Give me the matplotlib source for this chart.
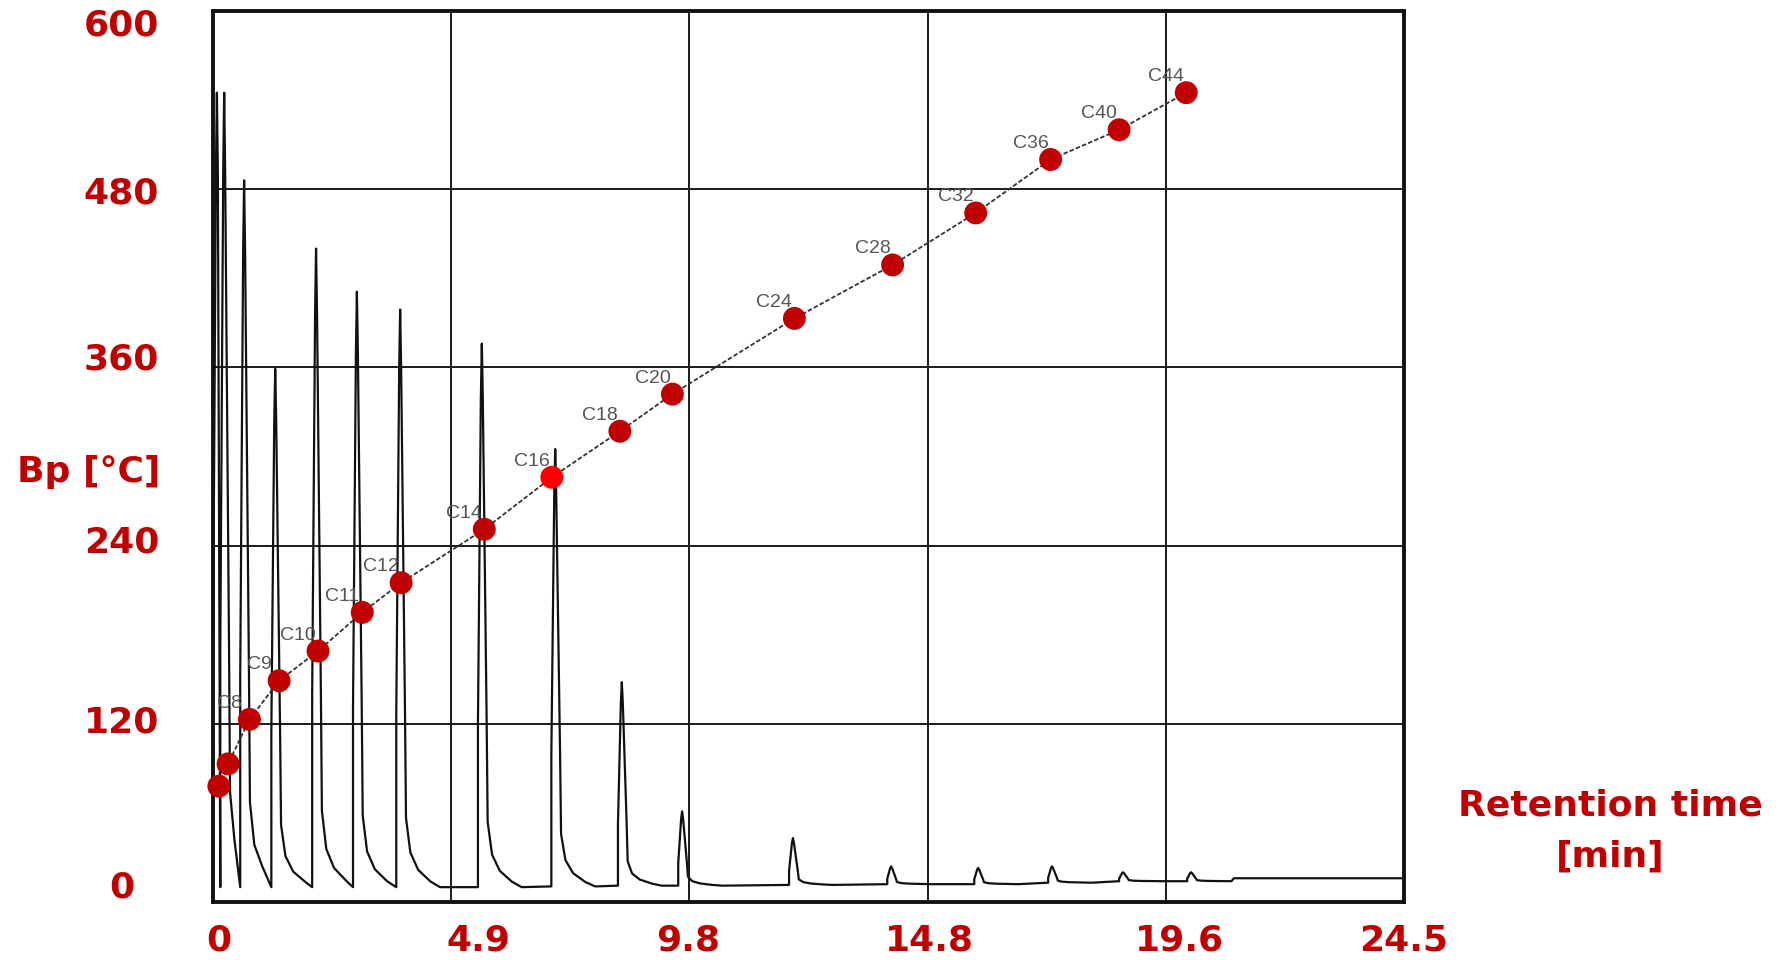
import numpy as np
import matplotlib.pyplot as plt

# boiling point of the n-alkanes vs retention time (red points)
rt = [0.12, 0.31, 0.75, 1.36, 2.16, 3.07, 3.87, 5.58, 6.97, 8.37, 9.45,
      11.96, 13.98, 15.69, 17.23, 18.64, 20.02]
bp = [78, 93, 123, 149, 169, 195, 215, 251, 286, 317, 342,
      393, 429, 464, 500, 520, 545]
names = ["", "", "C8", "C9", "C10", "C11", "C12", "C14", "C16", "C18", "C20",
         "C24", "C28", "C32", "C36", "C40", "C44"]

# chromatogram peaks (apex time, apex height, baseline) on the same vertical scale
peak_t = [0.08, 0.23, 0.64, 1.28, 2.12, 2.96, 3.85, 5.53, 7.04, 8.41, 9.65,
          11.93, 13.95, 15.74, 17.26, 18.72, 20.12]
peak_h = [545, 545, 486, 359, 440, 411, 399, 376, 305, 148, 61,
          43, 24, 23, 24, 20, 20]
peak_base = [10, 10, 10, 10, 10, 10, 10, 10, 10.5, 11, 11,
             11.5, 12, 12, 13, 14, 14]
end_t = [20.95, 21.0, 24.5]
end_y = [14, 16, 16]

# tick labels as printed on the picture
xlabels = ["0", "4.9", "9.8", "14.8", "19.6", "24.5"]
ylabels = ["0", "120", "240", "360", "480", "600"]

# layout
xlab_pos = [0.12, 5.47, 9.77, 14.73, 19.89, 24.5]
ylab_pos = [10, 121, 242, 365, 477, 590]
grid_x = [4.9, 9.8, 14.7, 19.6]
grid_y = [120, 240, 360, 480]
RED = "#C00000"
W, H = 1787, 960

fig = plt.figure(figsize=(W / 100, H / 100), dpi=100)
ax = fig.add_axes([213 / W, 1 - 902 / H, (1404 - 213) / W, (902 - 11) / H])
ax.set_xlim(0, 24.5)
ax.set_ylim(0, 600)

# grid of the recorder paper
for g in grid_x:
    ax.axvline(g, color="#1a1a1a", lw=1.4, zorder=1)
for g in grid_y:
    ax.axhline(g, color="#1a1a1a", lw=1.4, zorder=1)

# chromatogram trace: vertical rise, narrow apex, stepped tail on the right
dx = np.array([-0.08, -0.08, -0.02, 0.0, 0.02, 0.10, 0.12, 0.21, 0.37, 0.62, 0.82])
fy = np.array([0, 0.30, 0.90, 1.0, 0.90, 0.30, 0.12, 0.06, 0.03, 0.01, 0])
xs, ys = [0.0], [peak_base[0]]
for i, (t, h, b) in enumerate(zip(peak_t, peak_h, peak_base)):
    nxt = peak_t[i + 1] - 0.09 if i + 1 < len(peak_t) else end_t[0]
    px = t + dx
    py = b + (h - b) * fy
    m = px < nxt
    xs += list(px[m])
    ys += list(py[m])
xs += end_t
ys += end_y
ax.plot(xs, ys, color="#111111", lw=1.6, zorder=2)

# boiling point curve
ax.plot(rt, bp, color="#333333", lw=1.3, ls=(0, (2.5, 1.2)), zorder=3)
cols = [RED] * len(rt)
cols[8] = "#FF0000"
ax.scatter(rt, bp, s=272, c=cols, zorder=5, clip_on=False, linewidths=0)
for x, y, n in zip(rt, bp, names):
    if n:
        ax.annotate(n, (x, y), xytext=(-14.4, 11.5), textcoords="offset points",
                    ha="center", va="center", fontsize=14, color="#555555",
                    family="Liberation Sans", zorder=4)

for s in ax.spines.values():
    s.set_linewidth(2.8)
    s.set_color("#111111")

ax.set_xticks(xlab_pos, xlabels)
ax.set_yticks(ylab_pos, ylabels)
ax.tick_params(axis="x", length=0, pad=28)
ax.tick_params(axis="y", length=0, pad=66)
for lab in ax.get_xticklabels() + ax.get_yticklabels():
    lab.set_fontsize(26)
    lab.set_fontweight("bold")
    lab.set_color(RED)
    lab.set_va("center")
for lab in ax.get_yticklabels():
    lab.set_ha("center")

fig.text(89 / W, 1 - 472 / H, "Bp [°C]", ha="center", va="center",
         fontsize=26, fontweight="bold", color=RED)
fig.text(1610 / W, 1 - 806 / H, "Retention time", ha="center", va="center",
         fontsize=26, fontweight="bold", color=RED)
fig.text(1610 / W, 1 - 857 / H, "[min]", ha="center", va="center",
         fontsize=26, fontweight="bold", color=RED)

fig.savefig("out.png", dpi=100)
